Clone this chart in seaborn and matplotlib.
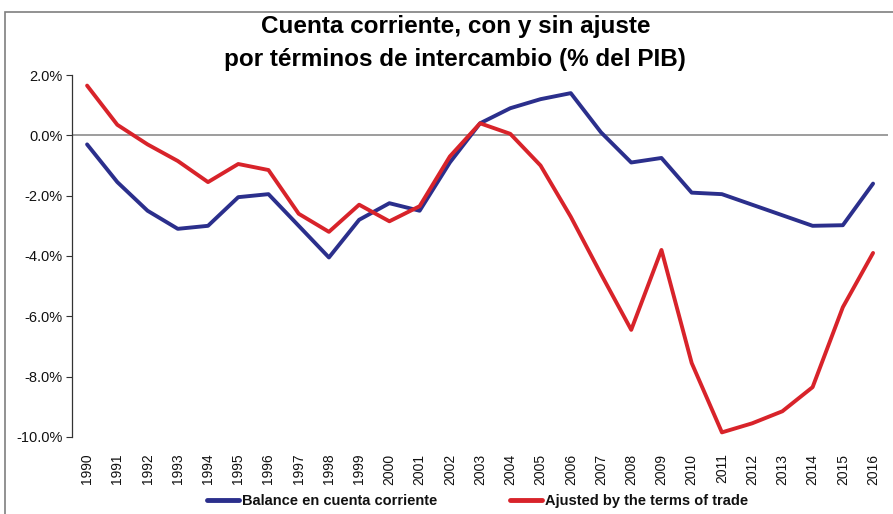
import matplotlib
matplotlib.use('Agg')
import matplotlib.pyplot as plt
import seaborn as sns
import pandas as pd
from matplotlib.patches import Rectangle
from matplotlib.ticker import FuncFormatter

years = list(range(1990, 2017))
balance = [-0.3, -1.55, -2.5, -3.1, -3.0, -2.05, -1.95, -3.0, -4.05, -2.8,
           -2.25, -2.5, -0.9, 0.4, 0.9, 1.2, 1.4, 0.1, -0.9, -0.75,
           -1.9, -1.95, -2.3, -2.65, -3.0, -2.98, -1.6]
adjusted = [1.65, 0.35, -0.3, -0.85, -1.55, -0.95, -1.15, -2.6, -3.2, -2.3,
            -2.85, -2.35, -0.7, 0.4, 0.05, -1.0, -2.7, -4.6, -6.45, -3.8,
            -7.55, -9.85, -9.55, -9.15, -8.35, -5.7, -3.9]
series_names = ['Balance en cuenta corriente', 'Ajusted by the terms of trade']
colors = ['#2B2F8C', '#D8232A']

sns.set_theme(style='white')
plt.rcParams['font.family'] = ['Liberation Sans', 'DejaVu Sans']
plt.rcParams['text.color'] = '#111111'
plt.rcParams['xtick.color'] = '#111111'
plt.rcParams['ytick.color'] = '#111111'

df = pd.DataFrame({
    'idx': list(range(len(years))) * 2,
    'value': balance + adjusted,
    'serie': [series_names[0]] * len(years) + [series_names[1]] * len(years),
})

fig = plt.figure(figsize=(8.93, 5.14), dpi=100)
ax = fig.add_axes([0.0806, 0.150, 0.914, 0.704])

sns.lineplot(data=df, x='idx', y='value', hue='serie', palette=colors,
             linewidth=2.8, ax=ax, legend=False)

ax.axhline(0, color='#8C8C8C', linewidth=1.2, zorder=0)
ax.set_xlim(-0.5, len(years) - 0.5)
ax.set_ylim(-10, 2)
ax.set_yticks([2, 0, -2, -4, -6, -8, -10])
ax.yaxis.set_major_formatter(FuncFormatter(lambda v, p: f'{v:.1f}%'))
ax.set_xticks(range(len(years)))
ax.set_xticklabels([str(y) for y in years], rotation=90, fontsize=10)
ax.tick_params(axis='y', labelsize=10.5, left=True, length=4, width=0.8, color='#333333', pad=3)
ax.tick_params(axis='x', bottom=False, pad=6)
ax.set_xlabel('')
ax.set_ylabel('')
for s in ['top', 'right', 'bottom']:
    ax.spines[s].set_visible(False)
ax.spines['left'].set_color('#333333')
ax.spines['left'].set_linewidth(0.9)

fig.text(0.51, 0.917, 'Cuenta corriente, con y sin ajuste\npor términos de intercambio (% del PIB)',
         ha='center', va='center', fontsize=17.5, fontweight='bold', linespacing=1.55,
         color='black')

handles = [plt.Line2D([], [], color=c, linewidth=3.5) for c in colors]
fig.legend(handles, series_names, loc='center', bbox_to_anchor=(0.535, 0.025), ncol=2,
           frameon=False, handlelength=2.2, handletextpad=0.2, columnspacing=5,
           prop={'weight': 'bold', 'size': 10.5})

fig.patches.append(Rectangle((5 / 893, -0.01), 1.0, 1 - 12 / 514 + 0.01, transform=fig.transFigure,
                             fill=False, edgecolor='#7F7F7F', linewidth=1.2))

fig.savefig('out.png', dpi=100)
